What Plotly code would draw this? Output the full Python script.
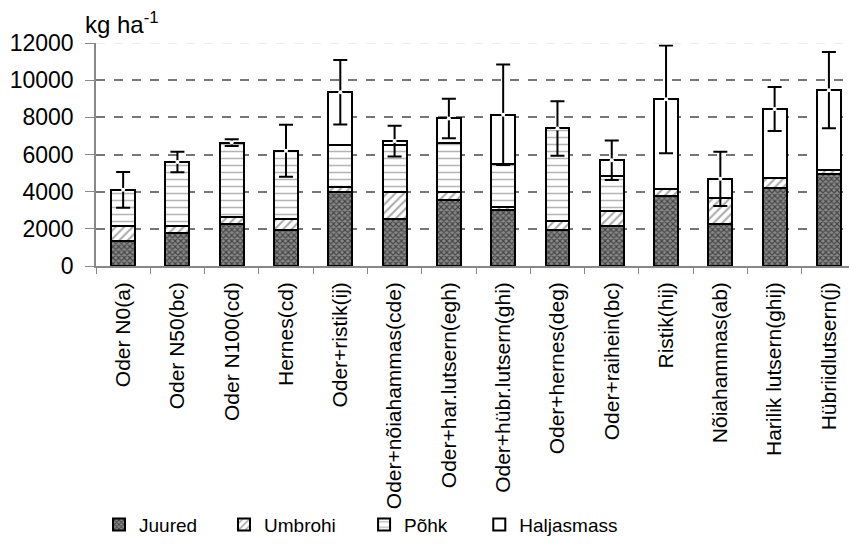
import plotly.graph_objects as go

categories = ["Oder N0(a)", "Oder N50(bc)", "Oder N100(cd)", "Hernes(cd)", "Oder+ristik(ij)",
              "Oder+nõiahammas(cde)", "Oder+har.lutsern(egh)", "Oder+hübr.lutsern(ghi)",
              "Oder+hernes(deg)", "Oder+raihein(bc)", "Ristik(hij)", "Nõiahammas(ab)",
              "Harilik lutsern(ghij)", "Hübriidlutsern(j)"]
juured     = [1350, 1750, 2250, 1950, 3970, 2550, 3550, 3020, 1950, 2140, 3760, 2250, 4180, 4930]
umbrohi    = [800, 400, 400, 600, 300, 1420, 420, 140, 470, 820, 400, 1430, 580, 210]
pohk       = [1950, 3450, 3990, 3650, 2260, 2560, 2650, 2330, 4980, 1880, 0, 0, 0, 0]
haljasmass = [0, 0, 0, 0, 2820, 190, 1320, 2650, 0, 850, 4810, 1010, 3690, 4320]
err        = [960, 550, 180, 1400, 1730, 830, 1060, 2700, 1470, 1060, 2900, 1460, 1180, 2050]

totals = [a + b + c + d for a, b, c, d in zip(juured, umbrohi, pohk, haljasmass)]
yticks = [0, 2000, 4000, 6000, 8000, 10000, 12000]

line = dict(color="black", width=2)
fig = go.Figure()
fig.add_bar(x=categories, y=juured, name="Juured", legend="legend",
            marker=dict(color="#444444", line=line,
                        pattern=dict(shape="x", fgcolor="#000000", bgcolor="#8a8a8a",
                                     size=4, solidity=0.5)))
fig.add_bar(x=categories, y=umbrohi, name="Umbrohi", legend="legend2",
            marker=dict(color="white", line=line,
                        pattern=dict(shape="/", fgcolor="#555555", bgcolor="white",
                                     size=6, solidity=0.35)))
fig.add_bar(x=categories, y=pohk, name="Põhk", legend="legend3",
            marker=dict(color="white", line=line,
                        pattern=dict(shape="-", fgcolor="#6a6a6a", bgcolor="white",
                                     size=7, solidity=0.22)))
fig.add_bar(x=categories, y=haljasmass, name="Haljasmass", legend="legend4",
            marker=dict(color="white", line=line))
fig.add_scatter(x=categories, y=totals, mode="markers", showlegend=False,
                marker=dict(color="white", size=4, symbol="circle"),
                error_y=dict(type="data", array=err, color="black", thickness=2, width=7))

def leg(x):
    return dict(orientation="h", x=x, xanchor="left", y=-1.16, yanchor="middle",
                font=dict(size=19), itemwidth=30, bgcolor="rgba(0,0,0,0)")

fig.update_layout(
    width=849, height=544, barmode="stack", bargap=0.56,
    plot_bgcolor="white", paper_bgcolor="white",
    margin=dict(l=96, r=0, t=43, b=271),
    font=dict(family="Liberation Sans, Arial, sans-serif", color="black", size=20),
    legend=leg(0.004), legend2=leg(0.170), legend3=leg(0.356), legend4=leg(0.509),
    annotations=[dict(text="kg ha<sup>-1</sup>", xref="paper", yref="paper", x=-0.017, y=1.0,
                      xanchor="left", yanchor="bottom", showarrow=False, yshift=3,
                      font=dict(size=24))],
    shapes=[
        dict(type="line", xref="paper", yref="y", x0=0, x1=1, y0=yticks[-1], y1=yticks[-1],
             line=dict(color="white", width=3), layer="above"),
        dict(type="line", xref="paper", yref="y", x0=0, x1=1, y0=yticks[-1], y1=yticks[-1],
             line=dict(color="#e6e6e6", width=1.5, dash="dash"), layer="above"),
    ],
)
fig.update_xaxes(range=[-0.5, 13.37], showline=True, linecolor="#888888", linewidth=1.5,
                 ticks="outside", tickson="boundaries", ticklen=6, tickcolor="#888888",
                 tickangle=-90, tickfont=dict(size=21), showgrid=False, ticklabelstandoff=6)
fig.update_yaxes(range=[0, 12000], tickvals=yticks, tickformat="d", showline=True,
                 linecolor="#888888", linewidth=1.5, ticks="outside", ticklen=9,
                 tickcolor="#888888", gridcolor="#777777", griddash="dash", gridwidth=1.5,
                 tickfont=dict(size=23), zeroline=False, ticklabelstandoff=7)

fig.write_html("out.html")
